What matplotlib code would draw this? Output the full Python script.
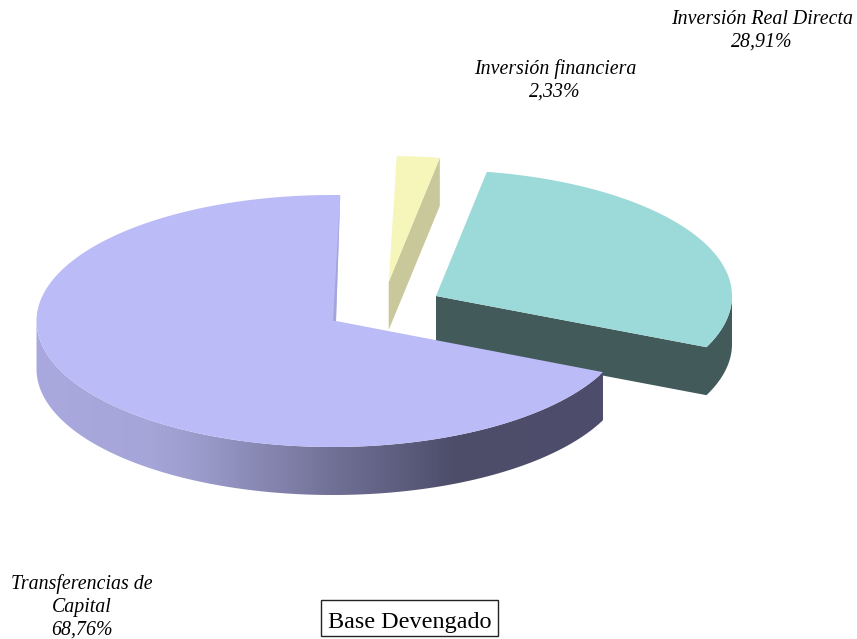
import numpy as np
import matplotlib
matplotlib.use('Agg')
import matplotlib.pyplot as plt
from matplotlib.colors import LinearSegmentedColormap
from matplotlib.patches import PathPatch, Polygon, Rectangle
from matplotlib.path import Path

categories = ['Transferencias de\nCapital', 'Inversión Real Directa', 'Inversión financiera']
shares = [68.76, 28.91, 2.33]

top_colors = ['#bbbbf7', '#9bdad8', '#f6f6bb']
wall_colors = ['#a5a5dc', '#425a5a', '#c8c89a']

# ellipse of the tilted pie, in pixels
rx, ry = 296, 126
depth = 48
start_angle = 88.5
centers = [(332.5, 321), (436, 296), (389, 282)]
apexes = [(336, 321), (436, 296), (388.7, 282)]
label_pos = [(82, 607), (762, 31), (555, 80)]

plt.rcParams['font.family'] = ['Liberation Serif', 'DejaVu Serif']

fig = plt.figure(figsize=(8.57, 6.39), dpi=100)
ax = fig.add_axes([0, 0, 1, 1])


def rim(center, a0, a1, n=200):
    t = np.radians(np.linspace(a0, a1, n))
    return np.column_stack([center[0] + rx * np.cos(t), center[1] - ry * np.sin(t)])


def drop(pts):
    return pts + np.array([0, depth])


fractions = np.array(shares) / sum(shares)
edges = start_angle + 360 * np.concatenate([[0], np.cumsum(fractions)])

# back to front: small slice, then the teal one, then the big one
for i in [2, 1, 0]:
    a0, a1 = edges[i], edges[i + 1]
    c, apex = centers[i], np.array(apexes[i])
    outline = rim(c, a0, a1)

    if i == 2:
        # cut face running down to the right edge
        p = outline[0]
        ax.add_patch(Polygon([apex, p, drop(p), drop(apex)], color=wall_colors[i], lw=0))
    if i == 1:
        # cut face and outer rim as one shape, so no seam shows between them
        side = rim(c, a0, 360)
        front = np.vstack([apex, side])
        ax.add_patch(Polygon(np.vstack([front, drop(front)[::-1]]), color=wall_colors[i], lw=0))
    if i == 0:
        side = rim(c, 180, a1)
        verts = np.vstack([side, drop(side)[::-1], side[:1]])
        codes = [Path.MOVETO] + [Path.LINETO] * (len(verts) - 2) + [Path.CLOSEPOLY]
        clip = PathPatch(Path(verts, codes), transform=ax.transData, fc='none', ec='none')
        ax.add_patch(clip)
        shade = LinearSegmentedColormap.from_list('wall', [
            (0.0, '#a9a9df'), (0.2, '#a5a5d9'), (0.29, '#9b9bcb'), (0.5, '#75759c'),
            (0.74, '#4d4d6a'), (1.0, '#4e4e6c')])
        im = ax.imshow(np.linspace(0, 1, 400)[None, :], cmap=shade, aspect='auto',
                       extent=[36, 603, 500, 300], zorder=1)
        im.set_clip_path(clip)

    ax.add_patch(Polygon(np.vstack([apex, outline]), color=top_colors[i], lw=0, zorder=2))

    if i == 0:
        # thin inner wall left of the first cut
        ax.add_patch(Polygon([outline[0], apex, apex - np.array([3, 0])],
                             color=wall_colors[0], lw=0, zorder=3))

for name, share, (x, y) in zip(categories, shares, label_pos):
    ax.text(x, y, name + '\n' + f'{share:.2f}%'.replace('.', ','), ha='center', va='center',
            style='italic', fontsize=14.3, linespacing=1.25, color='black', zorder=5)

ax.add_patch(Rectangle((321, 600), 177, 36, fc='white', ec='#222222', lw=1, zorder=4))
ax.text(410, 622.5, 'Base Devengado', ha='center', va='center', fontsize=17.4, color='black', zorder=5)

ax.set_xlim(0, 857)
ax.set_ylim(639, 0)
ax.axis('off')

plt.savefig('out.png', dpi=100, facecolor='white')
plt.close(fig)
